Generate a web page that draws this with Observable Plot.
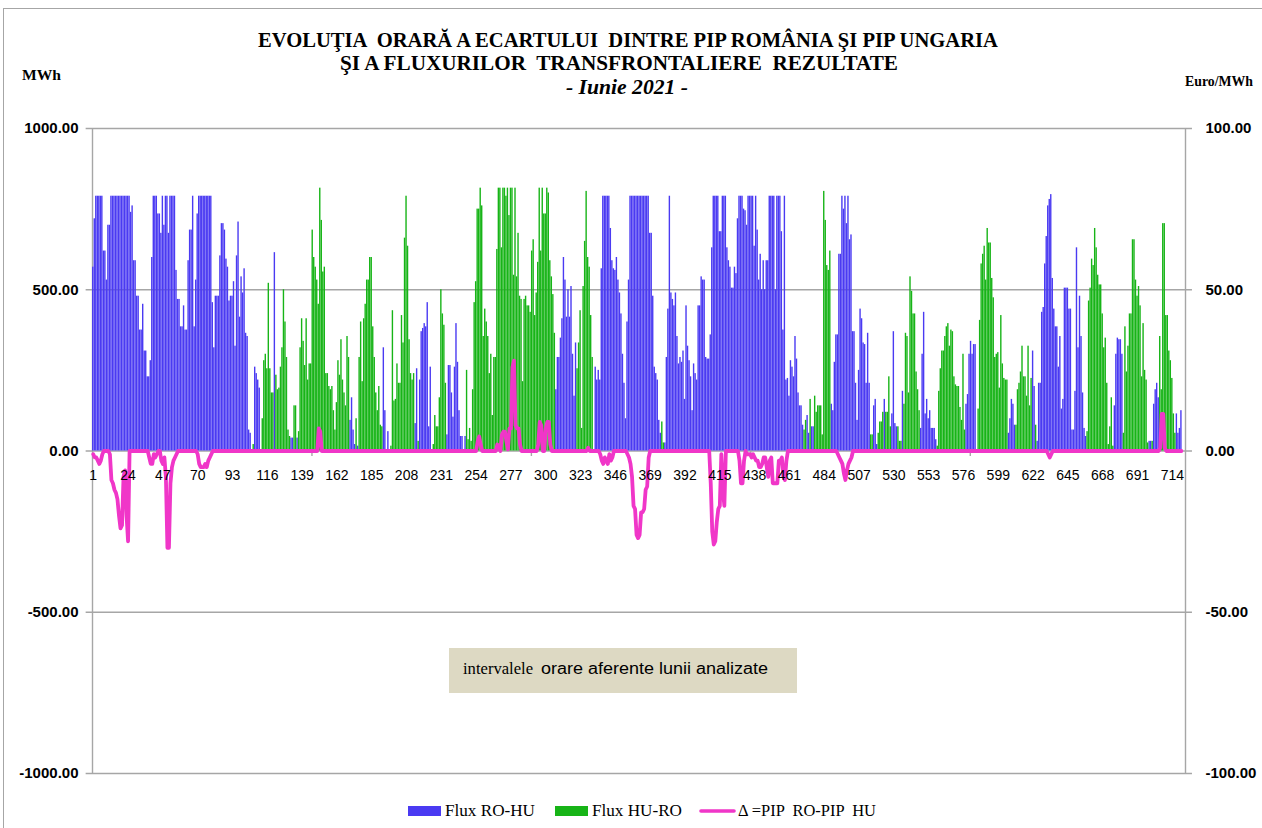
<!DOCTYPE html>
<html>
<head>
<meta charset="utf-8">
<script src="https://cdn.jsdelivr.net/npm/d3@7"></script>
<script src="https://cdn.jsdelivr.net/npm/@observablehq/plot@0.6"></script>
<style>
  body { margin: 0; background: #ffffff; }
  #wrap { position: relative; width: 1262px; height: 828px; overflow: hidden; background: #ffffff; }
  #chart { position: absolute; left: 0; top: 0; }
  #overlay { position: absolute; left: 0; top: 0; pointer-events: none; }
  #overlay text { white-space: pre; fill: #000; }
</style>
</head>
<body>
<div id="wrap">
  <div id="chart"></div>
  <svg id="overlay" width="1262" height="828"></svg>
</div>
<script>
// ---- Data ----
// Hourly flux Romania -> Hungary (MWh), June 2021, 24 values per day
const fluxRoHu = [
  570,720,790,790,790,790,790,620,620,530,700,700,790,790,790,790,790,790,790,790,790,790,790,790,
  790,740,760,590,590,480,480,375,375,455,310,310,230,230,280,600,790,790,790,735,735,675,790,700,
  790,790,675,790,790,790,790,560,470,470,385,385,450,375,375,590,685,685,790,385,530,735,790,790,
  790,790,790,790,790,790,790,460,320,480,480,480,605,705,705,685,595,570,465,480,480,525,325,605,
  710,415,540,490,565,365,355,65,55,0,0,260,240,220,195,0,0,0,0,0,0,0,0,0,
  615,0,0,0,0,0,0,0,0,0,0,40,40,0,0,40,0,0,0,0,0,0,0,0,
  0,0,0,0,0,0,0,0,0,0,0,0,0,0,0,0,0,0,0,0,0,0,0,0,
  0,0,95,165,65,20,0,15,0,0,0,0,0,0,0,0,0,0,0,0,0,0,0,0,
  320,125,0,60,0,0,0,0,0,0,0,0,0,0,0,0,0,0,0,0,0,85,255,0,
  220,370,380,395,385,460,75,260,0,0,0,0,0,0,0,0,0,0,50,265,265,180,105,260,
  395,275,125,45,45,0,45,0,0,0,0,0,0,0,0,0,0,0,0,0,0,0,0,0,
  0,0,0,0,0,0,0,0,0,0,0,0,0,0,0,0,0,0,0,0,0,0,0,0,
  0,0,0,0,0,0,0,0,0,0,0,0,0,0,0,0,0,0,190,290,290,350,410,600,
  530,415,500,415,510,300,170,335,0,0,0,0,0,0,0,0,0,0,0,0,260,220,250,220,
  565,790,790,790,790,790,690,590,565,560,600,530,490,425,300,210,100,400,530,790,790,790,790,790,
  790,790,790,790,790,790,790,790,675,675,480,260,240,220,95,55,0,0,25,290,440,790,490,470,
  450,490,355,270,290,275,310,160,450,325,280,230,125,270,240,220,450,450,540,530,530,290,285,285,
  360,630,790,790,790,790,680,680,790,790,790,630,590,570,505,505,570,550,720,790,790,790,750,745,
  700,790,790,790,790,635,790,685,530,610,500,590,500,590,590,790,790,790,790,500,790,790,790,680,
  375,790,220,225,170,280,260,230,355,285,180,140,140,80,0,0,110,55,0,75,75,0,0,0,
  0,0,0,0,0,0,0,0,145,125,275,360,360,610,610,790,750,790,705,790,655,670,370,370,
  210,95,250,440,410,335,330,210,365,210,0,0,140,160,20,0,0,0,0,160,0,0,0,0,
  115,370,85,75,0,0,0,185,0,0,0,0,0,0,0,0,0,0,0,70,300,430,115,160,
  100,125,70,70,70,35,0,0,0,0,0,0,0,0,0,0,0,0,0,0,0,0,0,0,
  0,145,175,300,340,300,330,330,0,0,0,0,0,0,0,0,0,0,0,0,0,0,0,0,
  0,0,0,0,0,55,100,160,145,80,0,0,0,0,0,0,0,0,0,0,0,310,200,0,
  30,210,210,430,445,580,665,760,780,795,535,440,385,385,260,355,130,160,505,505,505,440,440,65,
  65,185,630,320,480,355,180,70,45,0,0,0,0,0,0,0,0,0,0,0,0,0,0,0,
  0,0,0,140,300,350,345,345,300,0,0,0,0,0,0,0,0,0,0,0,0,0,0,0,
  0,0,30,30,0,145,190,210,165,0,0,0,0,0,0,0,0,0,0,0,115,55,70,125
];

// Hourly flux Hungary -> Romania (MWh)
const fluxHuRo = [
  0,0,0,0,0,0,0,0,0,0,0,0,0,0,0,0,0,0,0,0,0,0,0,0,
  0,0,0,0,0,0,0,0,0,0,0,0,0,0,0,0,0,0,0,0,0,0,0,0,
  0,0,0,0,0,0,0,0,0,0,0,0,0,0,0,0,0,0,0,0,0,0,0,0,
  0,0,0,0,0,0,0,0,0,0,0,0,0,0,0,0,0,0,0,0,0,0,0,0,
  0,0,0,0,0,0,0,0,0,0,20,0,0,0,0,0,100,280,300,255,520,255,180,180,
  0,235,190,195,260,320,500,400,290,65,45,0,0,140,140,0,60,320,410,340,265,410,220,270,
  270,685,600,570,530,455,815,715,555,570,240,240,200,190,200,125,65,150,280,235,345,220,180,140,
  355,290,0,0,0,0,100,0,290,400,215,410,455,530,530,600,600,385,290,180,125,200,80,75,
  0,0,0,0,0,15,435,155,160,270,210,210,420,335,660,790,635,345,240,220,240,0,0,30,
  0,0,0,0,0,0,0,0,0,20,110,75,75,165,500,425,390,210,0,0,0,0,0,0,
  0,0,0,0,0,0,0,250,35,70,30,190,460,525,750,750,815,760,355,440,400,355,240,300,
  110,290,290,625,815,815,630,815,815,790,815,730,815,815,545,815,540,675,480,470,215,470,480,450,
  450,430,620,655,420,490,585,815,620,815,735,735,815,800,590,540,485,365,0,0,0,0,0,0,
  0,0,0,0,0,0,0,0,255,335,435,70,510,650,805,600,570,420,290,0,0,0,0,0,
  0,0,0,0,0,0,0,0,0,0,0,0,0,0,0,0,0,0,0,0,0,0,0,0,
  0,0,0,0,0,0,0,0,0,0,0,0,0,0,0,0,90,25,0,0,0,0,0,0,
  0,0,0,0,0,0,0,0,0,0,0,0,0,0,0,0,0,0,0,0,0,0,0,0,
  0,0,0,0,0,0,0,0,0,0,0,0,0,0,0,0,0,0,0,0,0,0,0,0,
  0,0,0,0,0,0,0,0,0,0,0,0,0,0,0,0,0,0,0,0,0,0,0,0,
  0,0,0,0,0,0,0,0,0,0,0,0,0,0,65,95,0,0,160,0,0,170,120,140,
  140,140,50,805,715,575,560,620,0,0,0,0,0,0,0,0,0,0,0,0,0,0,0,0,
  0,0,0,0,0,0,0,0,0,0,50,50,0,0,0,55,90,90,120,0,120,120,230,75,
  0,0,0,0,75,30,30,0,145,365,355,180,540,495,425,425,245,190,125,0,0,0,0,0,
  0,0,0,0,0,0,15,185,255,310,310,355,385,395,325,375,370,230,205,200,200,135,95,300,
  65,0,0,0,0,0,0,0,0,130,405,580,610,635,530,690,645,645,535,475,290,300,305,195,
  420,270,225,220,220,0,0,0,0,0,80,190,210,245,325,230,230,170,325,140,225,0,0,80,
  0,0,0,0,0,0,0,0,0,0,0,0,0,0,0,0,0,0,0,0,0,0,0,0,
  0,0,0,0,0,0,0,0,0,60,465,505,595,575,690,630,545,515,515,425,320,350,210,20,
  75,165,15,0,0,0,0,0,0,55,385,245,325,425,425,655,655,530,480,510,450,230,395,250,
  220,25,0,0,30,0,0,0,0,355,190,705,705,420,420,310,280,225,115,55,0,0,0,0
];

// Hourly price spread PIP RO - PIP HU (Euro/MWh, right axis)
const deltaPip = [
  -1,-2,-2,-3,-4,-3,-1,0,0,0,0,-1,-9,-10,-12,-13,-15,-20,-24,-23,-8,-6,-20,-28,
  0,0,0,0,0,0,0,0,0,0,0,0,0,-2,-4,-4,-1,-2,-1,0,0,-3,-4,-2,
  -8,-30,-30,-10,-5,-3,-2,-1,0,0,0,0,0,0,0,0,0,0,0,0,0,-1,-4,-5,
  -5,-5,-4,-5,-3,-2,-1,0,0,0,0,0,0,0,0,0,0,0,0,0,0,0,0,0,
  0,0,0,0,0,0,0,0,0,0,0,0,0,0,0,0,0,0,0,0,0,0,0,0,
  0,0,0,0,0,0,0,0,0,0,0,0,0,0,0,0,0,0,0,0,0,0,0,0,
  0,0,0,0,0,7,6,0,0,0,0,0,0,0,0,0,0,0,0,0,0,0,0,0,
  0,0,0,0,0,0,0,0,0,0,0,0,0,0,0,0,0,0,0,0,0,0,0,0,
  0,0,0,0,0,0,0,0,0,0,0,0,0,0,0,0,0,0,0,0,0,0,0,0,
  0,0,0,0,0,0,0,0,0,0,0,0,0,0,0,0,0,0,0,0,0,0,0,0,
  0,0,0,0,0,0,0,0,0,0,0,0,0,0,3,4.5,2,0,0,0,0,0,0,0,
  0,0,0,2,1,0,5,6,6,3,0.5,7,7,26,28,8,7,7,2,0,0,0,0,0,
  0,0,0,0,0,0,2,9,8,0,0,7,9,9,2,0,0,0,0,0,0,0,0,0,
  0,0,0,0,0,0,0,0,0,0,0,0,0,0,0,1,0,0,0,0,0,0,0,-1,
  -3,-4,-2,-3,-4,-1,-3,-2,0,0,0,0,0,0,0,0,0,-1,-2,-4,-8,-17,-18,-26,
  -27,-26,-19,-19,-18,-12,-11,-2,0,0,0,0,0,0,0,0,0,0,0,0,0,0,0,0,
  0,0,0,0,0,0,0,0,0,0,0,0,0,0,0,0,0,0,0,0,0,0,0,0,
  -10,-25,-29,-28,-22,-18,-17,-1,-12,-17,0,0,0,0,0,0,0,0,0,-3,-10,-10,-3,0,
  -1,-1,-1,-2,-1,-2,-3,-3,-5,-5,-4,-2,-2,-5,-8,-3,-2,-10,-10,-10,-10,-3,-3,-2,
  -8,-9,-3,0,0,0,0,0,0,0,0,0,0,0,0,0,0,0,0,0,0,0,0,0,
  0,0,0,0,0,0,0,0,0,0,0,0,-1,-2,-3,-4,-7,-9,-6,-4,-3,-2,0,0,
  0,0,0,0,0,0,0,0,0,0,0,0,0,0,0,0,0,0,0,0,0,0,0,0,
  0,0,0,0,0,0,0,0,0,0,0,0,0,0,0,0,0,0,0,0,0,0,0,0,
  0,0,0,0,0,0,0,0,0,0,0,0,0,0,0,0,0,0,0,0,0,0,0,0,
  0,0,0,0,0,0,0,0,0,0,0,0,0,0,0,0,0,0,0,0,0,0,0,0,
  0,0,0,0,0,0,0,0,0,0,0,0,0,0,0,0,0,0,0,0,0,0,0,0,
  0,0,0,0,0,0,0,-1,-2,-1,0,0,0,0,0,0,0,0,0,0,0,0,0,0,
  0,0,0,0,0,0,0,0,0,0,0,0,0,0,0,0,0,0,0,0,0,0,0,0,
  0,0,0,0,0,0,0,0,0,0,0,0,0,0,0,0,0,0,0,0,0,0,0,0,
  0,0,0,0,0,0,0,0,0,1,11.5,11.5,1,0,0,0,0,0,0,0,0,0,0,0
];

// Axis tick labels
const xTickLabels = [1,24,47,70,93,116,139,162,185,208,231,254,277,300,323,346,369,392,415,438,461,484,507,530,553,576,599,622,645,668,691,714];
const xTickMarks = [145.5, 290.5, 435.5, 580.5];
const leftTicks = [1000, 500, 0, -500, -1000];
const rightTicks = [100, 50, 0, -50, -100];
const gridLines = [1000, 500, 0, -500, -1000];

// ---- Style ----
const BLUE = "#4a3af2";
const GREEN = "#17b417";
const MAGENTA = "#f036c8";
const GRID = "#a6a6a6";
const X_MIN = 0.5, X_MAX = 722.7;

const hours = fluxRoHu.map((_, i) => i + 1);
const blueHours = hours.filter(h => fluxRoHu[h - 1] > 0);
const greenHours = hours.filter(h => fluxHuRo[h - 1] > 0);

const chart = Plot.plot({
  width: 1262,
  height: 828,
  marginLeft: 92,
  marginRight: 77,
  marginTop: 128,
  marginBottom: 55,
  x: {type: "linear", domain: [X_MIN, X_MAX], axis: null},
  y: {domain: [-1000, 1000], axis: null},
  style: {fontFamily: "'Liberation Sans', Arial, sans-serif", background: "transparent", overflow: "visible", color: "#000"},
  marks: [
    Plot.ruleY(gridLines, {x1: X_MIN - 4.2, x2: X_MAX + 4.6, stroke: GRID, strokeWidth: 1.4}),
    Plot.ruleX([X_MIN, X_MAX], {y1: -1000, y2: 1000, stroke: GRID, strokeWidth: 1.4}),
    Plot.rect(blueHours, {x1: h => h - 0.5, x2: h => h + 0.5, y1: 0, y2: h => fluxRoHu[h - 1], fill: BLUE, insetLeft: 0.06, insetRight: 0.06}),
    Plot.rect(greenHours, {x1: h => h - 0.5, x2: h => h + 0.5, y1: 0, y2: h => fluxHuRo[h - 1], fill: GREEN, insetLeft: 0.06, insetRight: 0.06}),
    Plot.ruleX(xTickMarks, {y1: 0, y2: -17, stroke: GRID, strokeWidth: 1.4}),
    Plot.line(hours, {x: h => h, y: h => deltaPip[h - 1] * 10, stroke: MAGENTA, strokeWidth: 3.8, strokeLinejoin: "round", strokeLinecap: "round"}),
    Plot.text(xTickLabels, {x: d => d, y: 0, dy: 25, text: d => String(d), fontSize: 14, fill: "#000"}),
    Plot.text(leftTicks, {x: X_MIN, y: d => d, dx: -14, textAnchor: "end", text: d => d.toFixed(2), fontSize: 15, fontWeight: "bold", fill: "#000"}),
    Plot.text(rightTicks, {x: X_MAX, y: d => d * 10, dx: 20, textAnchor: "start", text: d => d.toFixed(2), fontSize: 15, fontWeight: "bold", fill: "#000"})
  ]
});
document.getElementById("chart").appendChild(chart);

// ---- Titles, units, note box and legend (real text) ----
const ov = d3.select("#overlay");
// outer chart-area border
ov.append("rect").attr("x", 3.5).attr("y", 8.5).attr("width", 1270).attr("height", 830)
  .attr("fill", "none").attr("stroke", "#a6a6a6").attr("stroke-width", 1);

function addText(str, x, y, len, size, family, weight, style) {
  ov.append("text")
    .attr("x", x).attr("y", y)
    .attr("textLength", len).attr("lengthAdjust", "spacingAndGlyphs")
    .attr("font-family", family).attr("font-size", size)
    .attr("font-weight", weight || "normal").attr("font-style", style || "normal")
    .text(str);
}
const SERIF = "'Liberation Serif', 'Times New Roman', serif";
const SANS = "'Liberation Sans', Arial, sans-serif";
addText("EVOLUŢIA  ORARĂ A ECARTULUI  DINTRE PIP ROMÂNIA ŞI PIP UNGARIA", 258, 47, 740, 20, SERIF, "bold");
addText("ŞI A FLUXURILOR  TRANSFRONTALIERE  REZULTATE", 340, 70, 558, 20, SERIF, "bold");
addText("- Iunie 2021 -", 566, 94, 122, 20, SERIF, "bold", "italic");
addText("MWh", 22, 80, 39, 15, SERIF, "bold");
addText("Euro/MWh", 1185, 86, 68, 14, SERIF, "bold");

// note box
ov.append("rect").attr("x", 449).attr("y", 648).attr("width", 348).attr("height", 45).attr("fill", "#ddd9c3");
addText("intervalele", 463, 674, 70, 16, SERIF);
addText("orare aferente lunii analizate", 541, 674, 227, 16, SANS);

// legend
ov.append("rect").attr("x", 408).attr("y", 806).attr("width", 33).attr("height", 10).attr("fill", BLUE);
addText("Flux RO-HU", 445, 816, 90, 16, SERIF);
ov.append("rect").attr("x", 555).attr("y", 806).attr("width", 33).attr("height", 10).attr("fill", GREEN);
addText("Flux HU-RO", 592, 816, 90, 16, SERIF);
ov.append("line").attr("x1", 701).attr("x2", 734).attr("y1", 811).attr("y2", 811)
  .attr("stroke", MAGENTA).attr("stroke-width", 3.6).attr("stroke-linecap", "round");
addText("Δ =PIP  RO-PIP  HU", 738, 816, 138, 16, SERIF);
</script>
</body>
</html>
